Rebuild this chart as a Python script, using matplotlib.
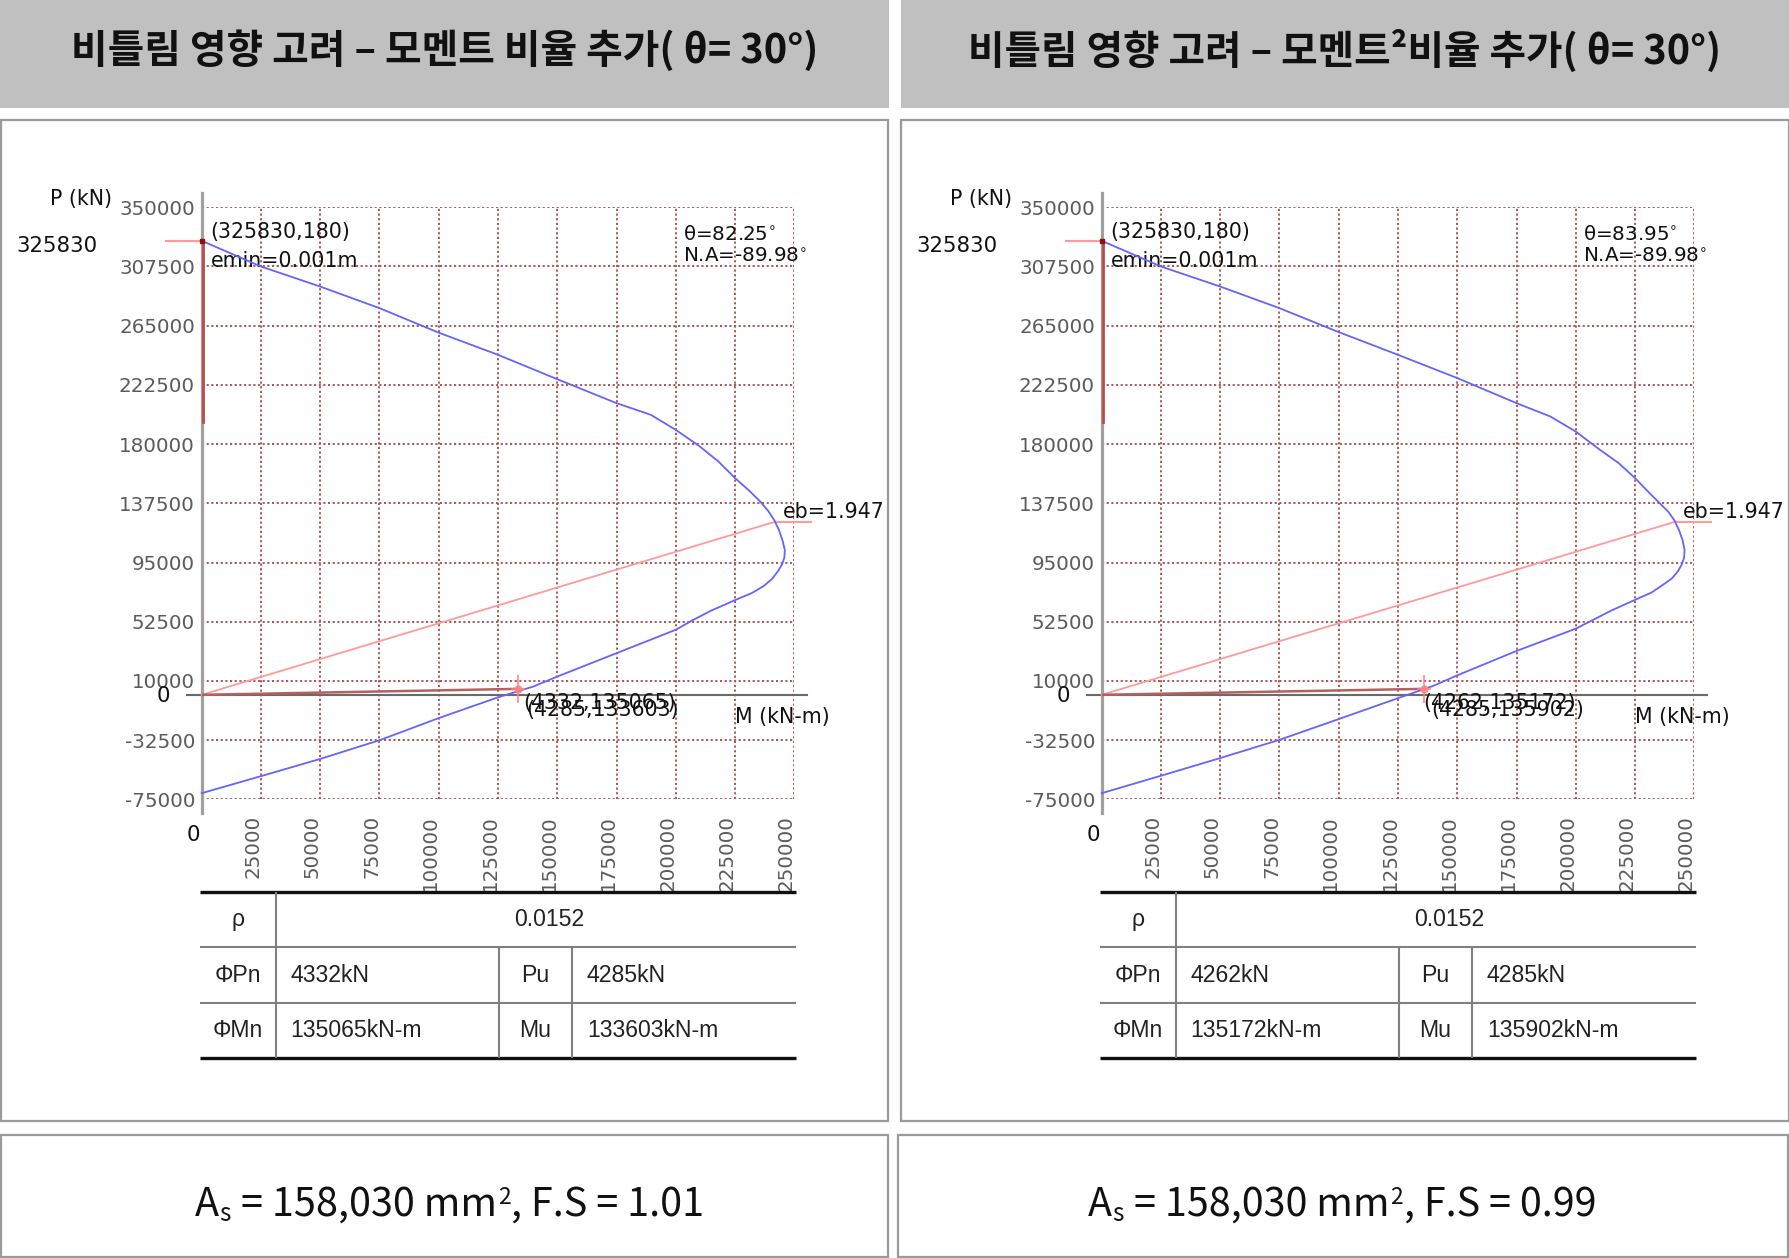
import numpy as np
import matplotlib
matplotlib.use('Agg')
import matplotlib.pyplot as plt
from matplotlib.patches import Rectangle
from matplotlib.lines import Line2D
from matplotlib.transforms import ScaledTranslation, blended_transform_factory

plt.rcParams['font.family'] = ['DejaVu Sans']

# ---------------- data ----------------
titles = ["비틀림 영향 고려 – 모멘트 비율 추가( θ= 30°)",
          "비틀림 영향 고려 – 모멘트²비율 추가( θ= 30°)"]
x_ticks = [0, 25000, 50000, 75000, 100000, 125000, 150000, 175000, 200000, 225000, 250000]
y_ticks = [-75000, -32500, 10000, 52500, 95000, 137500, 180000, 222500, 265000, 307500, 350000]

left_M = [180, 25000, 50000, 75000, 100000, 125000, 150000, 175000, 189500, 200000, 210000,
          218000, 225000, 231000, 235500, 239000, 241500, 243500, 245000, 246000, 245800,
          244800, 243000, 240500, 237000, 232000, 225000, 215000, 207000, 200000, 175000,
          150000, 140000, 125000, 100000, 75000, 50000, 25000, 0]
left_P = [325830, 307500, 293100, 277600, 260000, 244100, 226600, 209400, 201000, 190200, 178500,
          167500, 155600, 146500, 139000, 132000, 125500, 118500, 111000, 104000, 98500,
          93500, 88500, 83000, 78000, 73000, 68000, 60500, 53500, 46700, 29900,
          13100, 6000, -1800, -16700, -32600, -46000, -58400, -70600]

right_M = [180, 25000, 50000, 75000, 100000, 125000, 150000, 175000, 189300, 200000, 210100,
           218000, 225000, 231000, 235400, 239000, 241500, 243500, 245000, 245900, 245700,
           244700, 243000, 240500, 236800, 232000, 225000, 215000, 207300, 200000, 175000,
           150000, 140000, 125000, 100000, 75000, 50000, 25000, 0]
right_P = [325830, 307500, 293100, 277600, 260400, 244100, 227400, 209400, 199800, 189000, 176000,
           166500, 155600, 145000, 137600, 131500, 125500, 118500, 111300, 104100, 98500,
           93500, 88500, 83500, 79000, 73500, 68200, 60500, 53800, 47500, 31500,
           14000, 6500, -2400, -17400, -32300, -45400, -58100, -70600]

P0 = 325830
M0 = 180
emin_line_M = [600, 600]
emin_line_P = [325830, 196000]
emin_stub_M = [-15000, 0]
eb_P = 124400
eb_M = 242200
eb_stub_M = [242200, 257000]

theta_labels = ["θ=82.25$^{\\circ}$", "θ=83.95$^{\\circ}$"]
na_labels = ["N.A=-89.98$^{\\circ}$", "N.A=-89.98$^{\\circ}$"]
eb_label = "eb=1.947"
phiPn = [4332, 4262]
phiMn = [135065, 135172]
Pu = [4285, 4285]
Mu = [133603, 135902]
rho = "0.0152"
fs_values = ["1.01", "0.99"]
As_text = "158,030"

# ---------------- layout helpers ----------------
W, H = 1790, 1258
fig = plt.figure(figsize=(W / 100, H / 100), dpi=100)
fig.patch.set_facecolor('white')
renderer = fig.canvas.get_renderer()


def fx(x):
    return x / W


def fy(y):
    return 1 - y / H


def rect(x0, y0, x1, y1, fc='none', ec='none', lw=0):
    fig.add_artist(Rectangle((fx(x0), fy(y1)), (x1 - x0) / W, (y1 - y0) / H,
                             transform=fig.transFigure, facecolor=fc, edgecolor=ec, linewidth=lw))


def hline(x0, x1, y, color, lw):
    fig.add_artist(Line2D([fx(x0), fx(x1)], [fy(y), fy(y)], transform=fig.transFigure,
                          color=color, linewidth=lw, solid_capstyle='butt'))


def vline(x, y0, y1, color, lw):
    fig.add_artist(Line2D([fx(x), fx(x)], [fy(y0), fy(y1)], transform=fig.transFigure,
                          color=color, linewidth=lw, solid_capstyle='butt'))


def ftext(x, y, s, **kw):
    kw.setdefault('fontsize', 14.8)
    kw.setdefault('color', '#111111')
    return fig.text(fx(x), fy(y), s, **kw)


def width_px(t):
    return t.get_window_extent(renderer).width


CJK = ['Noto Sans CJK KR', 'DejaVu Sans']
TAB = ['Liberation Sans', 'DejaVu Sans']


def fitted_title(cx, cy, s, target_w):
    t = ftext(cx, cy, s, ha='center', va='center', fontsize=28, fontweight='bold',
              family=CJK, color='#111111')
    t.set_fontsize(28 * target_w / width_px(t))


def bottom_text(cx, base_y, fsval, target_w):
    # (text, size factor, baseline shift in em (down +), gap after in em)
    pieces = [("A", 1.0, 0.0, 0.02),
              ("s", 0.62, 0.13, 0.24),
              ("= " + As_text + " mm", 1.0, 0.0, 0.03),
              ("2", 0.58, -0.30, 0.02),
              (", F.S = " + fsval, 1.0, 0.0, 0.0)]
    size = 32.0
    texts = [ftext(0, base_y, s, fontsize=size * f, family=CJK, va='baseline', ha='left')
             for s, f, _, _ in pieces]

    def total(sz):
        em = sz * 100 / 72
        return sum(width_px(t) for t in texts) + sum(g for _, _, _, g in pieces) * em

    tot = total(size)
    size = size * target_w / tot
    for t, (s, f, _, _) in zip(texts, pieces):
        t.set_fontsize(size * f)
    em = size * 100 / 72
    x = cx - total(size) / 2
    for t, (s, f, sh, g) in zip(texts, pieces):
        t.set_position((fx(x), fy(base_y + sh * em)))
        x += width_px(t) + g * em


AX_L, AX_R, AX_T, AX_B = 201.7, 794.3, 207.3, 799.3
GRID_C = '#a85a5a'

for i, dx in enumerate([0, 900]):
    if i == 0:
        rect(0, 0, 889, 108, fc='#c0c0c0')
        rect(1, 120, 888, 1121, ec='#9a9a9a', lw=1.6)
        rect(1, 1135, 888, 1257, ec='#9a9a9a', lw=1.6)
        fitted_title(444.5, 51, titles[i], 748)
        bottom_text(449.6, 1216, fs_values[i], 509)
    else:
        rect(901, 0, 1790, 108, fc='#c0c0c0')
        rect(901, 120, 1789, 1121, ec='#9a9a9a', lw=1.6)
        rect(898, 1135, 1788, 1257, ec='#9a9a9a', lw=1.6)
        fitted_title(1345, 51, titles[i], 753)
        bottom_text(1342, 1216, fs_values[i], 508)

    # chart axes
    ax = fig.add_axes([fx(AX_L + dx), fy(AX_B), (AX_R - AX_L) / W, (AX_B - AX_T) / H])
    ax.set_xlim(0, 250000)
    ax.set_ylim(-75000, 350000)
    for sp in ax.spines.values():
        sp.set_visible(False)
    ax.set_facecolor('none')
    ax.set_xticks(x_ticks)
    ax.set_yticks(y_ticks)
    ax.set_xticklabels([''] + [str(v) for v in x_ticks[1:]], rotation=90, va='top', ha='center')
    ax.set_yticklabels([str(v) for v in y_ticks])
    ax.tick_params(axis='both', length=0, labelsize=14.3, labelcolor='#5c5c5c')
    ax.tick_params(axis='y', pad=4.8)
    ax.tick_params(axis='x', pad=11.3)
    for lab in ax.get_xticklabels():
        lab.set_transform(lab.get_transform() + ScaledTranslation(-8 / 100, 0, fig.dpi_scale_trans))
    ax.grid(True, color=GRID_C, linestyle=(0, (1.1, 1.3)), linewidth=1.4)
    ax.set_axisbelow(True)

    M = left_M if i == 0 else right_M
    P = left_P if i == 0 else right_P

    # axis lines
    ax.plot([0, 0], [-0.023, 1.024], transform=ax.transAxes, color='#a0a0a0', lw=2.3,
            clip_on=False, zorder=3)
    blend = blended_transform_factory(ax.transAxes, ax.transData)
    ax.plot([-0.025, 1.021], [0, 0], transform=blend, color='#6a6a6a', lw=1.5,
            clip_on=False, zorder=3)

    # eb line
    ax.plot([0, eb_M], [0, eb_P], color='#ff9a9a', lw=1.3, zorder=4, clip_on=False)
    ax.plot(eb_stub_M, [eb_P, eb_P], color='#ff9a9a', lw=1.5, zorder=4, clip_on=False)
    # emin
    ax.plot(emin_stub_M, [P0, P0], color='#ff9a9a', lw=1.5, zorder=4, clip_on=False)
    ax.plot(emin_line_M, emin_line_P, color='#c04848', lw=2.0, zorder=4, clip_on=False)
    # load line
    ax.plot([0, Mu[i]], [0, Pu[i]], color='#b56060', lw=1.8, zorder=4)
    # interaction curve
    ax.plot(M, P, color='#6464ff', lw=1.3, zorder=5, clip_on=False)
    ax.plot([M0], [P0], 's', ms=3, color='#8b1010', zorder=6, clip_on=False)
    # load point marker
    ax.plot([Mu[i]], [Pu[i]], marker='|', ms=20, mew=1.3, color='#ff8080', zorder=6, alpha=0.85)
    ax.plot([Mu[i]], [Pu[i]], marker='_', ms=10, mew=1.3, color='#ff8080', zorder=6, alpha=0.85)
    ax.plot([Mu[i]], [Pu[i]], 'o', ms=5, color='#ff8080', zorder=6, alpha=0.8)

    # annotations
    ak = dict(textcoords='offset points', ha='left', va='center', fontsize=14.8,
              color='#111111', annotation_clip=False)
    ax.annotate("(%d,%d)" % (P0, M0), (M0, P0), xytext=(6, 6.3), **ak)
    ax.annotate("emin=0.001m", (M0, P0), xytext=(6, -14.7), **ak)
    ax.annotate(eb_label, (eb_M, eb_P), xytext=(5, 7), **ak)
    ax.annotate("(%d,%d)" % (phiPn[i], phiMn[i]), (phiMn[i], phiPn[i]), xytext=(1, -10.5), **ak)
    ax.annotate("(%d,%d)" % (Pu[i], Mu[i]), (Mu[i], Pu[i]), xytext=(5.5, -15), **ak)

    ftext(683.3 + dx, 235, theta_labels[i], ha='left', va='center', fontsize=14.3)
    ftext(683.3 + dx, 256, na_labels[i], ha='left', va='center', fontsize=14.3)
    ftext(735 + dx, 717, "M (kN-m)", ha='left', va='center')
    ftext(111.7 + dx, 199, "P (kN)", ha='right', va='center')
    ftext(16.7 + dx, 246, str(P0), ha='left', va='center', fontsize=15.3)
    ftext(163.3 + dx, 696, "0", ha='center', va='center', fontsize=15.3)
    ftext(193.3 + dx, 835, "0", ha='center', va='center', fontsize=15.3)

    # table
    TL, TR = 200 + dx, 796 + dx
    c1, c2, c3 = 276.3 + dx, 498.9 + dx, 571.9 + dx
    r0, r1, r2, r3 = 892.3, 947.3, 1003.3, 1058.3
    hline(TL, TR, r0, '#111111', 2.4)
    hline(TL, TR, r3, '#111111', 2.4)
    hline(TL, TR, r1, '#808080', 1.5)
    hline(TL, TR, r2, '#808080', 1.5)
    vline(c1, r0, r3, '#808080', 1.5)
    vline(c2, r1, r3, '#808080', 1.5)
    vline(c3, r1, r3, '#808080', 1.5)
    rc = [(r0 + r1) / 2, (r1 + r2) / 2, (r2 + r3) / 2]
    tk = dict(fontsize=16.6, color='#222222', va='center', family=TAB)
    ftext((TL + c1) / 2, rc[0], "ρ", ha='center', **tk)
    ftext(549 + dx, rc[0], rho, ha='center', **tk)
    ftext((TL + c1) / 2, rc[1], "ΦPn", ha='center', **tk)
    ftext(c1 + 14, rc[1], "%dkN" % phiPn[i], ha='left', **tk)
    ftext((c2 + c3) / 2, rc[1], "Pu", ha='center', **tk)
    ftext(c3 + 15, rc[1], "%dkN" % Pu[i], ha='left', **tk)
    ftext((TL + c1) / 2, rc[2], "ΦMn", ha='center', **tk)
    ftext(c1 + 14, rc[2], "%dkN-m" % phiMn[i], ha='left', **tk)
    ftext((c2 + c3) / 2, rc[2], "Mu", ha='center', **tk)
    ftext(c3 + 15, rc[2], "%dkN-m" % Mu[i], ha='left', **tk)

fig.savefig('out.png', dpi=100, facecolor='white')
